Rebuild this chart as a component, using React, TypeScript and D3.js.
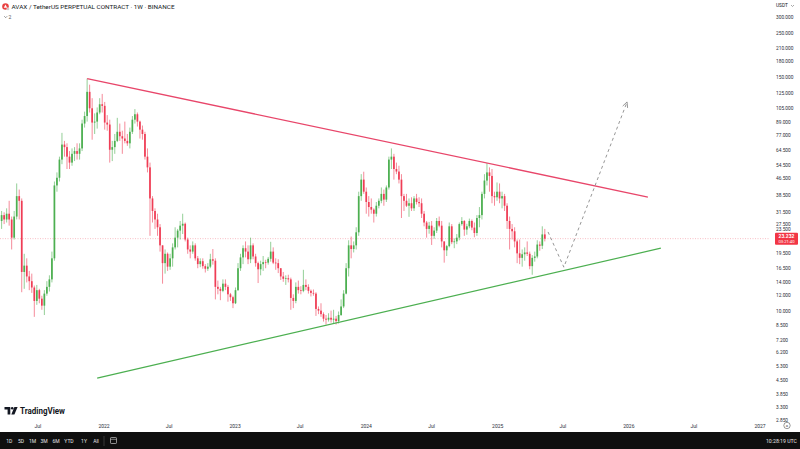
import React from "react";
import * as d3 from "d3";

// weekly AVAXUSDT.P candles, first bar opens on this Monday
const firstWeek = "2021-03-15";
const firstOpen = 31.5;

const closes = [
  28.5, 30.5, 29, 31, 29, 23.5, 30, 38, 36, 15.8,
  17, 15, 14.2, 13.2, 11.3, 12.8, 11.6, 10.7, 12.3, 13.3,
  14.5, 18.5, 43, 47, 58, 69, 67, 60, 56, 62,
  64, 62, 66, 88, 96, 127, 105, 89, 90, 100,
  110, 108, 89, 87, 65, 67, 72, 80, 76, 74,
  72, 70, 80, 92, 98, 90, 82, 78, 60, 53,
  37, 32, 29, 26.5, 21.5, 17.5, 19.5, 16.8, 18.5, 21,
  23.5, 25.5, 27, 27.6, 23, 20.5, 20, 21.5, 18.5, 17.3,
  17.9, 16.9, 16.4, 16.8, 18.3, 18, 13.3, 13, 12.7, 13.8,
  13.3, 12.2, 11.8, 11, 12.8, 16.5, 18.7, 20.8, 20, 18.3,
  21.5, 18.9, 17.5, 16.3, 17.3, 17.7, 17.6, 18.4, 20, 17.6,
  17.5, 16.5, 15, 14.6, 14.7, 14.5, 11.7, 11.3, 13.3, 12.8,
  12.7, 13.6, 13.3, 12.7, 12.4, 12.3, 10.3, 10.1, 9.7, 9.2,
  9.1, 9.3, 9.1, 9.2, 8.95, 9.6, 10.6, 12.3, 16.5, 21.5,
  20.6, 21.5, 25, 38, 46, 40, 35.5, 33.5, 32.5, 31,
  34, 36, 39, 36.5, 42, 58, 60, 52, 50.5, 46,
  38, 36, 34, 35, 33, 37, 35.5, 35, 31, 28,
  26, 27, 24, 25.5, 28.5, 27, 22.5, 20.3, 21.3, 26.8,
  22.3, 22.5, 23.5, 27.5, 28.5, 25.8, 26.8, 28.5, 26.4, 24.8,
  29.5, 30.5, 39, 45.5, 50, 48, 38, 37.5, 40, 37,
  38, 34, 28.5, 26, 25.3, 22.5, 19.6, 18.6, 19.4, 19.8,
  19.5, 16.9, 18.6, 18.9, 21.7, 21.4, 24.4, 23.232,
];

const highs = [
  34, 32, 31.5, 33, 36, 30, 32, 44, 41, 37,
  19.5, 18.5, 16, 15.5, 13.5, 13.6, 13, 12, 12.8, 14.2,
  15.2, 20, 45, 50, 60, 79, 72, 70, 64, 66,
  67, 70, 70, 92, 101, 148, 138, 118, 99, 106,
  118, 124, 113, 97, 92, 72, 78, 94, 88, 81,
  90, 78, 84, 96, 104, 100, 91, 86, 80, 66,
  56, 38, 33, 31, 27.5, 21.5, 20.5, 19.8, 19.5, 22,
  26.5, 26, 28.5, 31, 28, 23.5, 21.5, 22.5, 22, 19,
  18.5, 18.5, 17.3, 17.5, 19.5, 20.6, 18.5, 14.3, 13.3, 14.5,
  14.5, 13.6, 12.4, 12, 13.2, 17.5, 19.5, 21.5, 22.5, 21.5,
  23.5, 22, 19.5, 17.8, 18, 19, 18.2, 18.8, 22.4, 21,
  18.5, 18.3, 16.5, 15.8, 15.2, 15.3, 14.8, 12.2, 14, 14.3,
  13.4, 16.2, 14.5, 13.7, 12.9, 12.9, 12.5, 10.6, 11, 9.9,
  9.6, 9.8, 10.1, 10.2, 9.5, 10, 11.5, 12.8, 17.5, 22.8,
  23.8, 22.5, 26.5, 40, 49, 50.4, 42, 38, 37, 33,
  35.5, 37, 42, 41, 43, 60, 66, 62, 56, 54,
  49, 39, 39, 37, 37.5, 38, 39, 37.5, 37, 32,
  28.5, 28.2, 28.5, 26.5, 29.5, 30, 28.5, 22.5, 21.6, 28,
  27.5, 23.3, 24.5, 28, 29.8, 28.8, 27.6, 29.3, 29, 28,
  30.5, 33.5, 40, 49, 55.7, 53, 52, 40, 44.5, 44,
  40, 39, 35, 30, 27.5, 26.5, 23, 23, 20.5, 21,
  22.5, 20, 19.2, 20, 22.8, 22.5, 26.8, 26,
];

const lows = [
  26.5, 26, 27.5, 28, 27, 20.5, 23, 29, 29, 12.5,
  13, 14, 12.8, 12.4, 9.4, 10.8, 11, 10.2, 9.6, 12,
  12.6, 14, 18, 40, 45, 55, 60, 52, 52, 54,
  57, 58, 58, 64, 84, 90, 100, 73, 78, 83,
  98, 100, 82, 81, 56, 57, 62, 71, 72, 62,
  70, 68, 66, 78, 88, 85, 74, 73, 58, 50,
  24, 28, 26, 24, 20, 13.8, 15.5, 16, 16.2, 16.8,
  20.5, 21, 23, 24.5, 22.5, 19.5, 18.5, 19.5, 18, 16.5,
  16.7, 16.4, 15.7, 16, 16.5, 17.2, 11.5, 12.2, 11.4, 12.5,
  12.8, 11.2, 11.3, 10.4, 10.9, 12.7, 16, 17.3, 18.7, 17.3,
  17.5, 18.3, 16.8, 13.9, 15.2, 16, 16.5, 17.2, 17.8, 17.3,
  16.2, 15.6, 14.4, 14.1, 13.6, 14, 10.2, 10.4, 11, 12.3,
  12.2, 12.5, 12.8, 12.3, 11.9, 12, 9.5, 9.7, 9.4, 8.9,
  8.6, 8.9, 8.8, 8.7, 8.6, 8.7, 9.5, 10.4, 12.2, 15,
  18.5, 19.8, 20.5, 24, 36, 39, 31, 30, 31, 28,
  30, 33, 35, 34, 35.5, 41, 52, 46, 49, 44,
  29.5, 32, 33.5, 29.9, 32, 32, 34.5, 33.5, 29.5, 26.8,
  23.5, 24.6, 21.6, 23.2, 24.8, 26.5, 21, 17.6, 19, 21,
  21.8, 20.8, 21.8, 22.8, 27, 24, 24.3, 26.2, 25.6, 23.6,
  24, 26.5, 29, 37, 43, 40, 35, 34, 36, 35,
  33, 32, 26, 20.5, 23, 21, 17.5, 17.3, 16.8, 18,
  19, 16.3, 15.3, 17.8, 18.5, 20.2, 20.6, 22.5,
];

const priceTicks = [
  300, 250, 210, 180, 150, 125, 105, 89, 77, 64.5, 54.5, 46.5, 38.5, 31.5,
  27.5, 23.5, 19.5, 16.5, 14, 12, 10, 8.5, 7.2, 6.2, 5.3, 4.5, 3.85, 3.3, 2.85,
];

const timeTicks = [
  { date: "2021-07-01", label: "Jul" },
  { date: "2022-01-01", label: "2022" },
  { date: "2022-07-01", label: "Jul" },
  { date: "2023-01-01", label: "2023" },
  { date: "2023-07-01", label: "Jul" },
  { date: "2024-01-01", label: "2024" },
  { date: "2024-07-01", label: "Jul" },
  { date: "2025-01-01", label: "2025" },
  { date: "2025-07-01", label: "Jul" },
  { date: "2026-01-01", label: "2026" },
  { date: "2026-07-01", label: "Jul" },
  { date: "2027-01-01", label: "2027" },
];

const lastPrice = 23.232;
const countdown = "03:21:40";

const redTrend = [
  { date: "2021-11-15", price: 148 },
  { date: "2026-02-23", price: 37.6 },
];
const greenTrend = [
  { date: "2021-12-13", price: 4.63 },
  { date: "2026-03-31", price: 20.8 },
];
const projection = [
  { date: "2025-05-21", price: 25.1 },
  { date: "2025-07-04", price: 16.7 },
  { date: "2025-12-27", price: 113 },
];

const rangeButtons = ["1D", "5D", "1M", "3M", "6M", "YTD", "1Y", "All"];
const title = "AVAX / TetherUS PERPETUAL CONTRACT · 1W · BINANCE";

const W = 800;
const H = 449;
const plotRight = 770;
const plotBottom = 418;
const UP = "#4caf50";
const DOWN = "#ef3d55";
const FONT = "Roboto, 'Liberation Sans', sans-serif";

const x = d3
  .scaleUtc()
  .domain([new Date("2022-01-01"), new Date("2027-01-01")])
  .range([104, 760]);
const y = d3.scaleLog().domain([10, 100]).range([311.5, 112.5]);

const start = new Date(firstWeek);
const candles = closes.map((c, i) => {
  const o = i === 0 ? firstOpen : closes[i - 1];
  return {
    date: d3.utcDay.offset(start, i * 7),
    o,
    c,
    h: Math.max(highs[i], o, c),
    l: Math.min(lows[i], o, c),
  };
});

const weekPx = x(d3.utcDay.offset(start, 7)) - x(start);
const bodyW = weekPx * 0.68;

const pt = (d: { date: string; price: number }) => [x(new Date(d.date)), y(d.price)];
const line = d3.line();

export default function App() {
  const ry = y(lastPrice);
  const p1 = pt(projection[1]);
  const p2 = pt(projection[2]);
  const ang = Math.atan2(p2[1] - p1[1], p2[0] - p1[0]);
  const head = [ang + Math.PI - 0.45, ang + Math.PI + 0.45].map((a) => [
    p2[0] + 6 * Math.cos(a),
    p2[1] + 6 * Math.sin(a),
  ]);

  // tick labels that would sit under the last-price badge are nudged just above/below it
  const tickY = (v: number) => {
    const ty = y(v);
    if (Math.abs(ty - ry) < 9) return ty < ry ? ry - 9 : ry + 9;
    return ty;
  };

  return (
    <svg
      width={W}
      height={H}
      style={{ position: "absolute", left: 0, top: 0, background: "#fff" }}
      fontFamily={FONT}
    >
      <defs>
        <clipPath id="plot">
          <rect x={0} y={0} width={plotRight} height={plotBottom} />
        </clipPath>
      </defs>
      <rect x={0} y={0} width={W} height={H} fill="#fff" />

      <g clipPath="url(#plot)">
        {/* last price line */}
        <line
          x1={0}
          x2={plotRight}
          y1={ry}
          y2={ry}
          stroke="#f5a3ad"
          strokeWidth={0.7}
          strokeDasharray="1 1.5"
        />
        {candles.map((d, i) => {
          const cx = x(d.date);
          const col = d.c >= d.o ? UP : DOWN;
          const top = y(Math.max(d.o, d.c));
          const bh = Math.max(0.7, y(Math.min(d.o, d.c)) - top);
          return (
            <g key={i}>
              <line x1={cx} x2={cx} y1={y(d.h)} y2={y(d.l)} stroke={col} strokeWidth={0.6} />
              <rect x={cx - bodyW / 2} y={top} width={bodyW} height={bh} fill={col} />
            </g>
          );
        })}
        <path d={line(redTrend.map(pt) as [number, number][]) || ""} stroke="#e8466a" strokeWidth={1.3} fill="none" />
        <path d={line(greenTrend.map(pt) as [number, number][]) || ""} stroke="#4caf50" strokeWidth={1.2} fill="none" />
        <path
          d={line(projection.map(pt) as [number, number][]) || ""}
          stroke="#8a8a8a"
          strokeWidth={0.9}
          strokeDasharray="3 3"
          fill="none"
        />
        <path
          d={`M${head[0][0]},${head[0][1]}L${p2[0]},${p2[1]}L${head[1][0]},${head[1][1]}`}
          stroke="#8a8a8a"
          strokeWidth={0.9}
          fill="none"
        />
      </g>

      {/* header */}
      <circle cx={5.5} cy={6.5} r={3.3} fill="#e84142" />
      <path d="M5.5 4.6 L7.2 7.8 L3.8 7.8 Z" fill="#fff" />
      <circle cx={8} cy={9} r={1.3} fill="#bbb" stroke="#fff" strokeWidth={0.4} />
      <text x={11.5} y={8.8} fontSize={6} fill="#131722" textLength={163} lengthAdjust="spacingAndGlyphs">
        {title}
      </text>
      <path d="M4.2 16.2 L5.7 17.7 L7.2 16.2" stroke="#555" strokeWidth={0.6} fill="none" />
      <text x={8.6} y={18.5} fontSize={5} fill="#555">
        2
      </text>

      {/* price axis */}
      <text x={776} y={7} fontSize={4.8} fill="#131722">
        USDT
      </text>
      <path d="M791 5 L792.5 6.5 L794 5" stroke="#555" strokeWidth={0.5} fill="none" />
      {priceTicks.map((v) => (
        <text key={v} x={776} y={tickY(v)} dy="0.35em" fontSize={4.8} fill="#2a2e39">
          {d3.format(".3f")(v)}
        </text>
      ))}
      <rect x={775} y={ry - 6} width={23} height={12} fill="#f23645" rx={1} />
      <text x={786.5} y={ry - 1} fontSize={5} fontWeight={700} fill="#fff" textAnchor="middle">
        {d3.format(".3f")(lastPrice)}
      </text>
      <text x={786.5} y={ry + 4.2} fontSize={4.2} fill="#fff" textAnchor="middle">
        {countdown}
      </text>

      {/* time axis */}
      <rect x={0} y={plotBottom} width={plotRight} height={14} fill="#fff" />
      {timeTicks.map((t) => (
        <text
          key={t.date}
          x={x(new Date(t.date))}
          y={427.5}
          fontSize={5}
          fill="#2a2e39"
          textAnchor="middle"
        >
          {t.label}
        </text>
      ))}
      <circle cx={787} cy={425.5} r={3.2} fill="none" stroke="#555" strokeWidth={0.6} />
      <text x={787} y={427.3} fontSize={4.2} fill="#555" textAnchor="middle">
        a
      </text>

      {/* TradingView logo */}
      <path d="M4.5 407 H10.3 V414.5 H7.6 V409.6 H4.5 Z" fill="#131722" />
      <circle cx={12.2} cy={408.3} r={1.3} fill="#131722" />
      <path d="M14.4 407 H17.6 L14.4 414.5 H11.3 Z" fill="#131722" />
      <text x={20} y={414.3} fontSize={9.5} fontWeight={700} fill="#131722" textLength={45} lengthAdjust="spacingAndGlyphs">
        TradingView
      </text>

      {/* bottom toolbar */}
      <rect x={0} y={432} width={W} height={H - 432} fill="#0f0f0f" />
      {rangeButtons.map((b, i) => (
        <text
          key={b}
          x={[9.3, 21, 32.5, 44, 56, 69, 84, 96][i]}
          y={442.5}
          fontSize={5}
          fill="#e6e6e6"
          textAnchor="middle"
        >
          {b}
        </text>
      ))}
      <line x1={104} x2={104} y1={436} y2={446} stroke="#555" strokeWidth={0.6} />
      <rect x={110.5} y={437.5} width={6} height={6} fill="none" stroke="#e6e6e6" strokeWidth={0.6} rx={0.8} />
      <line x1={110.5} x2={116.5} y1={439.3} y2={439.3} stroke="#e6e6e6" strokeWidth={0.5} />
      <text x={797} y={442.5} fontSize={5.2} fill="#e6e6e6" textAnchor="end">
        10:28:19 UTC
      </text>
    </svg>
  );
}
